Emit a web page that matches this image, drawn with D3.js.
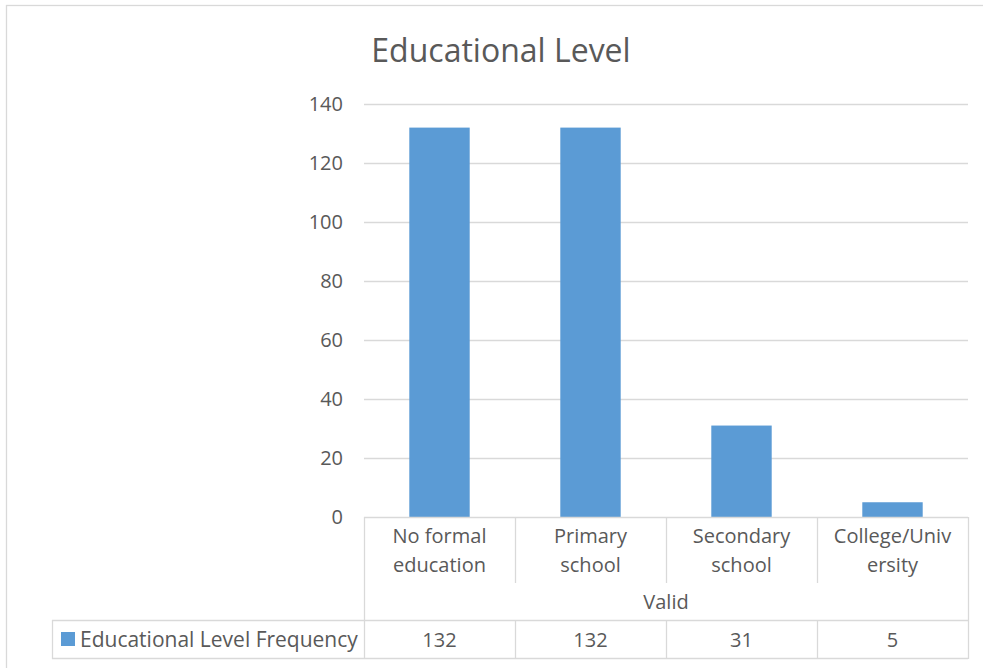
<!DOCTYPE html>
<html>
<head>
<meta charset="utf-8">
<script src="https://cdn.jsdelivr.net/npm/d3@7"></script>
<style>
  html, body { margin: 0; padding: 0; background: #ffffff; }
  svg { display: block; font-family: "Open Sans", "DejaVu Sans", sans-serif; }
</style>
</head>
<body>
<svg id="chart" width="983" height="668"></svg>
<script>
// Frequency table: educational level of respondents
const title = "Educational Level";
const categories = ["No formal education", "Primary school", "Secondary school", "College/University"];
const categoryLines = [["No formal", "education"], ["Primary", "school"], ["Secondary", "school"], ["College/Univ", "ersity"]];
const groupLabel = "Valid";
const seriesName = "Educational Level Frequency";
const frequencies = [132, 132, 31, 5];
const yTicks = [0, 20, 40, 60, 80, 100, 120, 140];

const svg = d3.select("#chart");
const textColor = "#595959";
const lineColor = "#d9d9d9";
const barColor = "#5b9bd5";

const plot = { left: 364, right: 968, top: 104, bottom: 517 };
const table = { catBottom: 583, groupBottom: 620, valueBottom: 658, legendLeft: 52 };

// chart area frame
svg.append("rect")
  .attr("x", 6.5).attr("y", 5.5)
  .attr("width", 1000).attr("height", 700)
  .attr("fill", "#ffffff").attr("stroke", lineColor).attr("stroke-width", 1.3);

// title
svg.append("text")
  .attr("x", 501).attr("y", 62)
  .attr("text-anchor", "middle")
  .attr("font-size", 32)
  .attr("fill", textColor)
  .text(title);

const x = d3.scaleBand().domain(categories).range([plot.left, plot.right]).padding(0);
const y = d3.scaleLinear().domain([0, 140]).range([plot.bottom, plot.top]);
const barW = x.bandwidth() * 0.4;

// gridlines
svg.append("g").selectAll("line").data(yTicks.filter(t => t > 0)).join("line")
  .attr("x1", plot.left).attr("x2", plot.right)
  .attr("y1", d => Math.round(y(d)) + 0.5).attr("y2", d => Math.round(y(d)) + 0.5)
  .attr("stroke", lineColor).attr("stroke-width", 1.3);

// y axis labels
const yAxis = d3.axisLeft(y).tickValues(yTicks).tickSize(0).tickPadding(0);
const gy = svg.append("g").attr("transform", `translate(343,0)`).call(yAxis);
gy.select(".domain").remove();
gy.selectAll("text").attr("font-size", 20).attr("fill", textColor)
  .attr("font-family", "Open Sans, sans-serif");

// bars
svg.append("g").selectAll("rect").data(frequencies).join("rect")
  .attr("x", (d, i) => x(categories[i]) + (x.bandwidth() - barW) / 2)
  .attr("width", barW)
  .attr("y", d => y(d))
  .attr("height", d => y(0) - y(d))
  .attr("fill", barColor);

// data table lines
const tl = svg.append("g").attr("stroke", lineColor).attr("stroke-width", 1.3).attr("fill", "none");
const hline = (x1, x2, yy) => tl.append("line").attr("x1", x1).attr("x2", x2).attr("y1", yy).attr("y2", yy);
const vline = (xx, y1, y2) => tl.append("line").attr("x1", xx).attr("x2", xx).attr("y1", y1).attr("y2", y2);
hline(plot.left, plot.right, plot.bottom + 0.5);
hline(table.legendLeft, plot.right, table.groupBottom + 0.5);
hline(table.legendLeft, plot.right, table.valueBottom + 0.5);
vline(plot.left + 0.5, plot.bottom, table.valueBottom + 1);
vline(plot.right + 0.5, plot.bottom, table.valueBottom + 1);
vline(table.legendLeft + 0.5, table.groupBottom, table.valueBottom + 1);
categories.slice(1).forEach(c => {
  const xx = Math.round(x(c)) + 0.5;
  vline(xx, plot.bottom, table.catBottom);
  vline(xx, table.groupBottom, table.valueBottom);
});

// category labels
const cat = svg.append("g").selectAll("text").data(categories).join("text")
  .attr("text-anchor", "middle")
  .attr("font-size", 20)
  .attr("fill", textColor);
cat.each(function(c, i) {
  const cx = x(c) + x.bandwidth() / 2;
  d3.select(this).selectAll("tspan").data(categoryLines[i]).join("tspan")
    .attr("x", cx)
    .attr("y", (l, j) => 543 + j * 29)
    .text(l => l);
});

// group label
svg.append("text")
  .attr("x", (plot.left + plot.right) / 2).attr("y", 609)
  .attr("text-anchor", "middle").attr("font-size", 20).attr("fill", textColor)
  .text(groupLabel);

// values row
svg.append("g").selectAll("text").data(frequencies).join("text")
  .attr("x", (d, i) => x(categories[i]) + x.bandwidth() / 2)
  .attr("y", 647)
  .attr("text-anchor", "middle").attr("font-size", 20).attr("fill", textColor)
  .text(d => d);

// legend key + series name
svg.append("rect").attr("x", 61).attr("y", 632).attr("width", 14).attr("height", 14).attr("fill", barColor);
svg.append("text").attr("x", 80).attr("y", 647)
  .attr("font-size", 21).attr("fill", textColor)
  .text(seriesName);
</script>
</body>
</html>
